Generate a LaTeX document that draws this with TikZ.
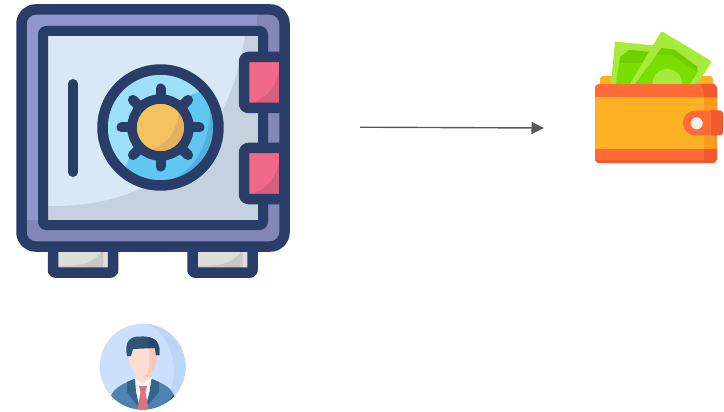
\documentclass[tikz,border=0pt]{standalone}
\usepackage{xcolor}
\usepackage{tikz}
\usetikzlibrary{arrows.meta,positioning}
\definecolor{SafeNavy}{HTML}{2A3C68}
\definecolor{SafePurple}{HTML}{8E96CC}
\definecolor{SafePurpleDark}{HTML}{8287B8}
\definecolor{DoorBlue}{HTML}{D8E8F7}
\definecolor{DoorShade}{HTML}{C4D2E0}
\definecolor{DialLight}{HTML}{9CDFF6}
\definecolor{DialMid}{HTML}{60C7F0}
\definecolor{DialDark}{HTML}{52AEDA}
\definecolor{KnobYellow}{HTML}{F4C35E}
\definecolor{KnobDark}{HTML}{E2B25E}
\definecolor{HingePink}{HTML}{F0688A}
\definecolor{HingeDark}{HTML}{D65F80}
\definecolor{FootGray}{HTML}{DDDDD9}
\definecolor{FootDark}{HTML}{C8C8C4}
\definecolor{WalletRed}{HTML}{FF6B37}
\definecolor{WalletRedDark}{HTML}{F4592E}
\definecolor{WalletOrange}{HTML}{FFB125}
\definecolor{WalletOrangeDark}{HTML}{FF9A1E}
\definecolor{BillLight}{HTML}{A6EB3C}
\definecolor{BillMid}{HTML}{7ADF00}
\definecolor{BillDark}{HTML}{70CF00}
\definecolor{SkyLight}{HTML}{CBE0FD}
\definecolor{SkyDark}{HTML}{BDD6F8}
\definecolor{HairBlue}{HTML}{2F5573}
\definecolor{HairDark}{HTML}{274A66}
\definecolor{SkinLight}{HTML}{FFDDD3}
\definecolor{SkinDark}{HTML}{F8C8BC}
\definecolor{SuitBlue}{HTML}{4F82AE}
\definecolor{SuitDark}{HTML}{33658A}
\definecolor{ShirtWhite}{HTML}{F2F7FD}
\definecolor{TieRed}{HTML}{DB727E}
\definecolor{ArrowGray}{HTML}{595959}

\begin{document}
\begin{tikzpicture}[
    x=1pt, y=-1pt,
    navy/.style={draw=SafeNavy, line width=10.5pt, line join=round},
    spoke/.style={draw=SafeNavy, line width=10pt, line cap=round},
    arr/.style={-{Triangle[length=12.5pt, width=12pt]}, line width=1.4pt, draw=ArrowGray}
]
\useasboundingbox (0,0) rectangle (724,412);
% feet
\foreach \fx in {53,192.5} {
  \fill[FootGray] (\fx,246) rectangle ++(60,26);
  \fill[FootDark] (\fx+50,250) -- (\fx+50,272) -- (\fx,272) -- (\fx,266) .. controls (\fx+25,266) and (\fx+38,266) .. (\fx+50,250) -- cycle;
  \draw[navy, rounded corners=2pt] (\fx,246) rectangle ++(60,26.5);
}
% safe body
\fill[SafePurple, rounded corners=14pt] (21.5,9.5) rectangle (284.5,246.5);
\begin{scope}
  \clip[rounded corners=14pt] (21.5,9.5) rectangle (284.5,246.5);
  \fill[SafePurpleDark] (257,5) rectangle (290,250);
  \fill[SafePurpleDark] (15,220) rectangle (290,250);
\end{scope}
\draw[navy, rounded corners=14pt] (21.5,9.5) rectangle (284.5,246.5);
% door
\fill[DoorBlue] (43,31) rectangle (263,225);
\fill[DoorShade] (48,206) .. controls (130,208) and (225,170) .. (245,36) -- (263,31) -- (263,225) -- (43,225) -- cycle;
\draw[navy, line width=10pt, rounded corners=3pt] (43,31) rectangle (263,225);
\draw[spoke] (73,84) -- (73,172);
% dial
\fill[DialLight] (160.5,127.5) circle (58);
\begin{scope}
  \clip (160.5,127.5) circle (58);
  \fill[DialMid] (122,180) .. controls (135,125) and (175,95) .. (222,85) -- (225,190) -- cycle;
  \fill[DialDark] (150,186) .. controls (190,180) and (212,150) .. (210,100) -- (225,100) -- (225,190) -- cycle;
\end{scope}
\draw[navy] (160.5,127.5) circle (58);
\foreach \ang in {0,45,...,315}
  \draw[spoke] (160.5,127.5) -- ++(\ang:39);
\fill[KnobYellow] (160.5,127.5) circle (26);
\begin{scope}
  \clip (160.5,127.5) circle (24.5);
  \fill[KnobDark] (140,152) .. controls (165,150) and (180,130) .. (179,105) -- (190,105) -- (190,155) -- cycle;
\end{scope}
\draw[draw=SafeNavy, line width=9.5pt] (160.5,127.5) circle (28.5);
% hinges
\foreach \hy in {62,153} {
  \fill[HingePink] (244,\hy-5) rectangle (285,\hy+46);
  \fill[HingeDark] (249,\hy+41) .. controls (268,\hy+38) and (277,\hy+22) .. (279,\hy+8) -- (285,\hy+8) -- (285,\hy+46) -- (249,\hy+46) -- cycle;
  \draw[navy, rounded corners=4pt] (285,\hy-5) -- (244,\hy-5) -- (244,\hy+46) -- (285,\hy+46);
  \draw[draw=SafeNavy, line width=10.5pt] (284.5,\hy-8) -- (284.5,\hy+49);
}
% wallet
\fill[WalletOrange, rounded corners=3pt] (600,76) rectangle (713,90);
\fill[BillLight] (615,41.5) -- (659,46) -- (640,84) -- (611,84) -- cycle;
\fill[BillMid] (620,57) -- (629,50) -- (655,52.5) -- (636,84) -- (616,84) -- cycle;
\fill[BillDark] (620,57) -- (629,50) -- (655,52.5) -- (647,63) -- (620,63) -- cycle;
\fill[BillLight, rounded corners=2pt] (661.5,31) -- (712,61.5) -- (697,84) -- (630,84) -- cycle;
\fill[BillMid] (661.5,48) -- (675,50) -- (697,66.5) -- (697.5,72) -- (690,84) -- (635,84) -- cycle;
\fill[BillDark] (661.5,48) -- (675,50) -- (697,66.5) -- (697.5,72) -- (672,55) -- (657,54) -- cycle;
\begin{scope}
  \clip (640,40) rectangle (700,84);
  \fill[BillLight] (667.3,84) circle (15);
\end{scope}
\begin{scope}
  \clip[rounded corners=4pt] (595,84) rectangle (717,163);
  \fill[WalletOrange] (595,84) rectangle (717,163);
  \fill[WalletOrangeDark] (704,84) rectangle (717,163);
  \fill[WalletRed] (595,84) rectangle (717,97.5);
  \fill[WalletRed] (595,149.5) rectangle (717,163);
  \fill[WalletRedDark] (700,84) -- (717,84) -- (717,97.5) -- (704,97.5) .. controls (704,91) and (703,87) .. (700,84) -- cycle;
  \fill[WalletRedDark] (704,149.5) rectangle (717,163);
  \fill[WalletRedDark] (595,160.5) rectangle (717,163);
\end{scope}
\fill[WalletRed] (715,110.5) [rounded corners=12.4pt] -- (683,110.5) -- (683,135.5) [sharp corners] -- (715,135.5) -- cycle;
\fill[WalletRedDark] (711,110.5) [rounded corners=3pt] -- (723,110.5) -- (723,135.5) [sharp corners] -- (711,135.5) -- cycle;
\fill[black!6] (696.7,123.3) circle (6);
% person
\begin{scope}
  \clip (142.7,366.7) circle (43);
  \fill[SkyLight] (142.7,366.7) circle (43);
  \fill[SkyDark] (148,324) .. controls (178,340) and (182,385) .. (160,409) -- (190,409) -- (190,324) -- cycle;
  \fill[SuitBlue] (111,396) .. controls (113,389) and (122,384) .. (134,379) -- (152,379) .. controls (164,384) and (172,388) .. (174,396) -- (174,412) -- (111,412) -- cycle;
  \fill[SuitDark] (174,394) -- (174,412) -- (158,412) -- cycle;
  \fill[ShirtWhite] (135,378) -- (152,378) -- (152,400) -- (143,410) -- (135,400) -- cycle;
  \fill[SuitDark] (135,379) -- (127,382) -- (127,392) -- (140,409) -- (136,392) -- cycle;
  \fill[SuitDark] (151.5,379) -- (159,382) -- (159,392) -- (145,409) -- (149.5,392) -- cycle;
  \fill[TieRed] (139,386) -- (147,386) -- (145.5,392) -- (149,412) -- (137,412) -- (140.5,392) -- cycle;
  \fill[SkinLight] (136,368) -- (150,368) -- (150,379) -- (143,384) -- (136,379) -- cycle;
  \fill[SkinDark] (143,368) -- (150,368) -- (150,377) -- (143,377) -- cycle;
  \fill[SkinLight] (128.5,348) -- (157.5,348) .. controls (157.5,364) and (155,375.5) .. (143,375.5) .. controls (131,375.5) and (128.5,364) .. (128.5,348) -- cycle;
  \fill[SkinDark] (149,345) -- (157.5,350) .. controls (157.5,364) and (154,374) .. (146,375) .. controls (152,368) and (149,355) .. (149,345) -- cycle;
  \fill[HairBlue] (127,356) .. controls (125,344) and (127,336) .. (141,336.5) .. controls (148,336) and (158,338) .. (159.3,348) -- (159.3,355) -- (156,355) -- (155,348) -- (133,349) -- (131,356) -- cycle;
  \fill[HairDark] (148,337) .. controls (155,338) and (158,341) .. (159.3,348) -- (159.3,355) -- (156,355) -- (155,348) -- (148,348) -- cycle;
\end{scope}
% arrow
\coordinate (safeout) at (360,127.2);
\coordinate (walletin) at (544,128);
\draw[arr] (safeout) -- (walletin);
\end{tikzpicture}
\end{document}
